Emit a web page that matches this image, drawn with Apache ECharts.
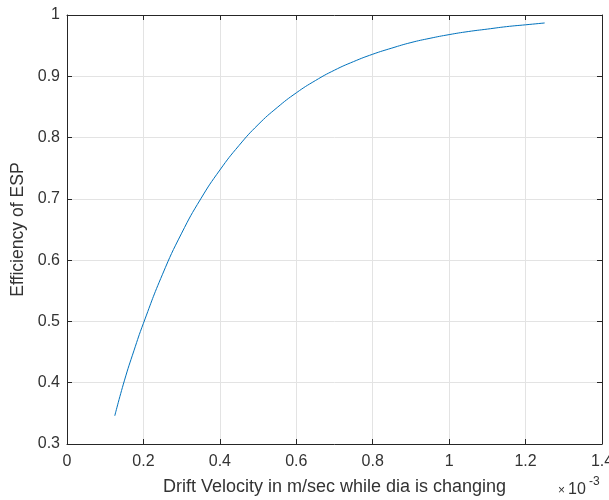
<!DOCTYPE html>
<html>
<head>
<meta charset="utf-8">
<script src="https://cdn.jsdelivr.net/npm/echarts@6/dist/echarts.min.js"></script>
<style>
  html, body { margin: 0; padding: 0; background: #ffffff; }
  #chart { width: 609px; height: 500px; }
</style>
</head>
<body>
<div id="chart"></div>
<script>
// Drift velocity (in units of 1e-3 m/s) and ESP collection efficiency
const driftVelocity = [0.125, 0.15, 0.175, 0.2, 0.25, 0.3, 0.35, 0.4, 0.45, 0.5, 0.55, 0.6, 0.65, 0.7, 0.75, 0.8, 0.85, 0.9, 0.95, 1.0, 1.05, 1.1, 1.15, 1.2, 1.25];
const efficiency = [0.346, 0.403, 0.452, 0.497, 0.577, 0.644, 0.700, 0.747, 0.787, 0.821, 0.849, 0.873, 0.893, 0.910, 0.924, 0.936, 0.946, 0.955, 0.962, 0.968, 0.973, 0.977, 0.981, 0.984, 0.987];

const xTicks = { min: 0, max: 1.4, step: 0.2 };
const yTicks = { min: 0.3, max: 1, step: 0.1 };

const xTitle = 'Drift Velocity in m/sec while dia is changing';
const yTitle = 'Efficiency of ESP';
const exponentTimes = '×';
const exponentBase = '10';
const exponentPower = '-3';

const axisColor = '#262626';
const textColor = '#333333';
const font = '"Liberation Sans", Arial, Helvetica, sans-serif';

const chart = echarts.init(document.getElementById('chart'), null, { renderer: 'canvas' });

const fmt = v => String(Math.round(v * 10) / 10);

const baseAxis = {
  axisLine: { show: true, onZero: false, lineStyle: { color: axisColor, width: 1 } },
  axisTick: { show: true, inside: true, length: 5, lineStyle: { color: axisColor } },
  splitLine: { show: true, lineStyle: { color: '#e3e3e3', width: 1 } }
};

chart.setOption({
  animation: false,
  backgroundColor: '#ffffff',
  grid: { left: 67, right: 7, top: 15, bottom: 56, containLabel: false, outerBoundsMode: 'none' },
  xAxis: [
    Object.assign({}, baseAxis, {
      type: 'value',
      min: xTicks.min, max: xTicks.max, interval: xTicks.step,
      position: 'bottom',
      axisLabel: { color: textColor, fontSize: 16, fontFamily: font, margin: 10, formatter: fmt, showMaxLabel: true },
      name: xTitle,
      nameLocation: 'middle',
      nameGap: 34,
      nameTextStyle: { color: textColor, fontSize: 18, fontFamily: font }
    }),
    Object.assign({}, baseAxis, {
      type: 'value',
      min: xTicks.min, max: xTicks.max, interval: xTicks.step,
      position: 'top',
      axisLabel: { show: false },
      splitLine: { show: false }
    })
  ],
  yAxis: [
    Object.assign({}, baseAxis, {
      type: 'value',
      min: yTicks.min, max: yTicks.max, interval: yTicks.step,
      position: 'left',
      axisLabel: { color: textColor, fontSize: 16, fontFamily: font, margin: 7, formatter: fmt },
      name: yTitle,
      nameLocation: 'middle',
      nameGap: 40,
      nameRotate: 90,
      nameTextStyle: { color: textColor, fontSize: 17.6, fontFamily: font }
    }),
    Object.assign({}, baseAxis, {
      type: 'value',
      min: yTicks.min, max: yTicks.max, interval: yTicks.step,
      position: 'right',
      axisLabel: { show: false },
      splitLine: { show: false }
    })
  ],
  graphic: [
    {
      type: 'text',
      left: 558,
      top: 485,
      style: { text: exponentTimes, fontSize: 12, fontFamily: font, fill: textColor }
    },
    {
      type: 'text',
      left: 568,
      top: 482,
      style: { text: exponentBase, fontSize: 16, fontFamily: font, fill: textColor }
    },
    {
      type: 'text',
      left: 589,
      top: 476,
      style: { text: exponentPower, fontSize: 12, fontFamily: font, fill: textColor }
    }
  ],
  series: [
    {
      type: 'line',
      data: driftVelocity.map((x, i) => [x, efficiency[i]]),
      showSymbol: false,
      smooth: true,
      lineStyle: { color: '#0072BD', width: 1 },
      xAxisIndex: 0,
      yAxisIndex: 0
    }
  ]
});
</script>
</body>
</html>
